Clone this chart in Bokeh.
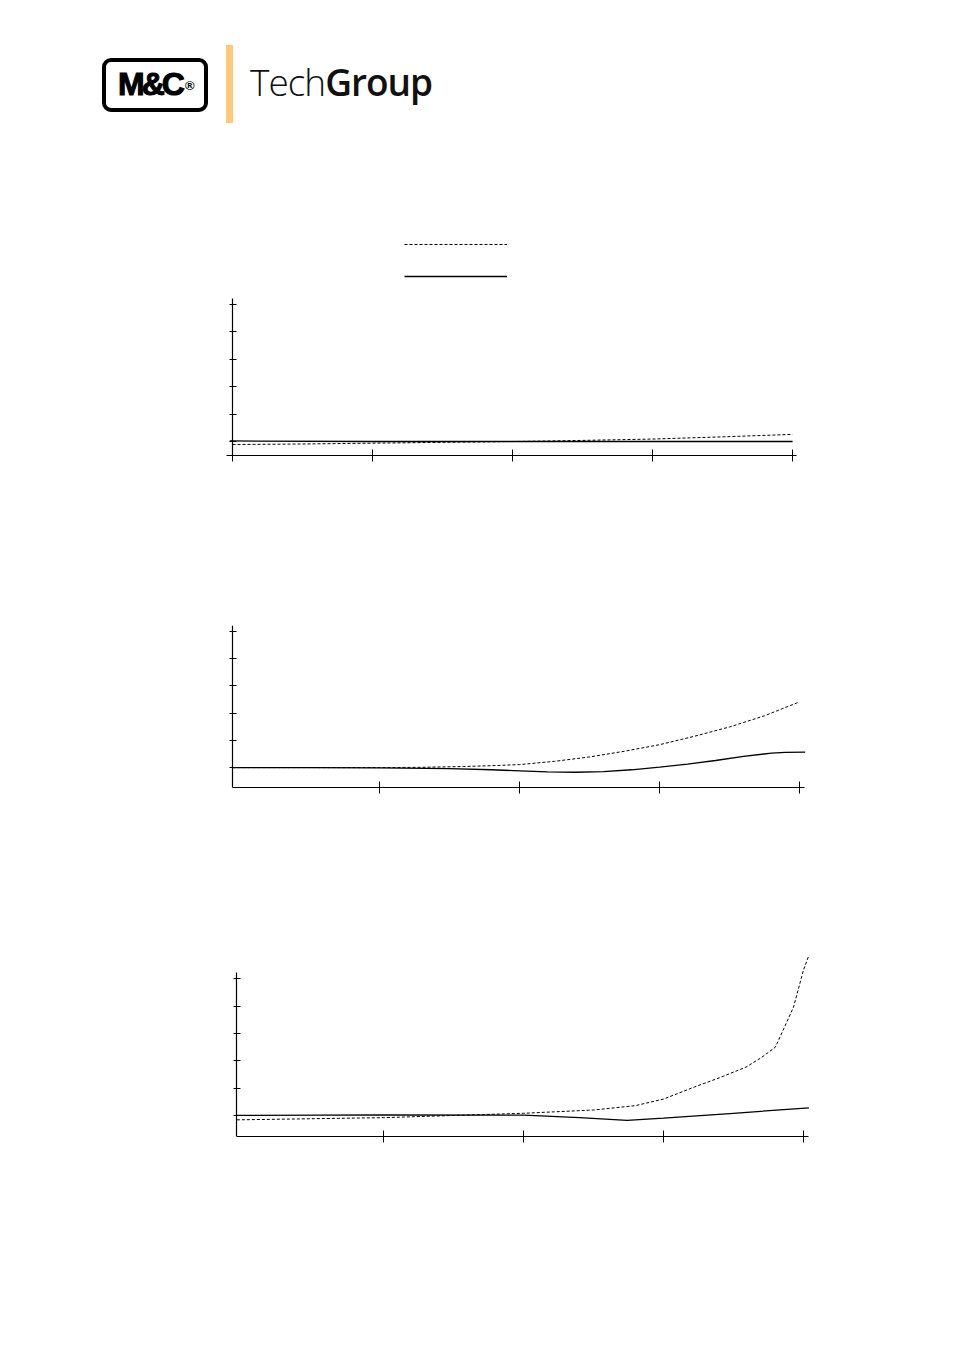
from bokeh.plotting import figure
from bokeh.layouts import column
from bokeh.models import Div, Legend, LegendItem, FixedTicker, Range1d
from bokeh.embed import file_html
from bokeh.resources import INLINE

# ---------------- data ----------------
# chart 1
c1_x_dash = [0.0, 0.5, 1.0, 1.5, 2.0, 2.5, 3.0, 3.5, 4.0]
c1_y_dash = [-0.11, -0.09, -0.06, -0.03, 0.0, 0.04, 0.09, 0.17, 0.26]
c1_x_solid = [-0.02, 1.0, 2.0, 3.0, 4.0]
c1_y_solid = [0.02, 0.0, 0.0, 0.0, 0.0]
c1_xticks = [0, 1, 2, 3, 4]

# chart 2
c2_x_dash = [-0.05, 0.5, 1.0, 1.3, 1.6, 1.8, 2.0, 2.25, 2.5, 2.75, 3.0, 3.25, 3.5, 3.75, 3.99]
c2_y_dash = [0.0, 0.0, 0.0, 0.01, 0.04, 0.07, 0.11, 0.23, 0.39, 0.6, 0.84, 1.15, 1.49, 1.9, 2.39]
c2_x_solid = [-0.05, 0.5, 1.0, 1.5, 1.8, 2.0, 2.2, 2.4, 2.6, 2.8, 3.0, 3.2, 3.4, 3.6, 3.8, 3.9, 4.04]
c2_y_solid = [0.0, 0.0, -0.01, -0.04, -0.08, -0.12, -0.16, -0.17, -0.15, -0.08, 0.02, 0.13, 0.26, 0.41, 0.53, 0.56, 0.57]
c2_xticks = [1, 2, 3, 4]

# chart 3
c3_x_dash = [-0.05, 1.0, 2.0, 2.5, 2.8, 3.0, 3.22, 3.4, 3.59, 3.7, 3.8, 3.93, 4.0, 4.04]
c3_y_dash = [-0.16, -0.08, 0.08, 0.2, 0.36, 0.6, 1.04, 1.38, 1.77, 2.12, 2.5, 3.97, 5.31, 5.87]
c3_x_solid = [-0.05, 1.0, 2.0, 2.4, 2.74, 3.0, 3.5, 4.04]
c3_y_solid = [0.0, 0.02, 0.01, -0.08, -0.18, -0.1, 0.08, 0.28]
c3_xticks = [1, 2, 3, 4]

y_ticks = [0, 1, 2, 3, 4, 5]

DASH = "3 2"

W = 946
BL = 226   # common frame left (page px)
BR = W - 809  # common frame right at page x 809


def make_chart(height, bt, bb, xr, yr, xticks, yaxis_at, xbounds, ybounds):
    p = figure(width=W, height=height, output_backend="svg",
               toolbar_location=None, x_range=Range1d(*xr), y_range=Range1d(*yr),
               min_border_left=BL, min_border_right=BR,
               min_border_top=bt, min_border_bottom=bb)
    p.grid.visible = False
    p.outline_line_color = None
    p.background_fill_color = "white"
    p.border_fill_color = "white"
    for ax in (p.xaxis[0], p.yaxis[0]):
        ax.axis_line_color = "black"
        ax.axis_line_width = 1.2
        ax.major_tick_line_color = "black"
        ax.major_tick_line_width = 1
        ax.minor_tick_line_color = None
        ax.major_label_standoff = 0
    xa = p.xaxis[0]
    ya = p.yaxis[0]
    xa.ticker = FixedTicker(ticks=xticks)
    xa.major_label_overrides = {t: "" for t in xticks}
    xa.major_tick_in = 6
    xa.major_tick_out = 6
    xa.bounds = xbounds
    ya.ticker = FixedTicker(ticks=y_ticks)
    ya.major_label_overrides = {t: "" for t in y_ticks}
    ya.major_tick_in = 4
    ya.major_tick_out = 3
    ya.bounds = ybounds
    ya.fixed_location = yaxis_at
    return p


# chart 1: y-axis page x 232 (x=0), 140 px/unit; frame y 225..455
p1 = make_chart(360, 25, 105, (-0.043, 4.121), (-0.51, 7.88), c1_xticks,
                0.0, (-0.04, 4.03), (-0.51, 5.22))
r1d = p1.line(c1_x_dash, c1_y_dash, line_color="black", line_width=1, line_dash=DASH)
r1s = p1.line(c1_x_solid, c1_y_solid, line_color="black", line_width=1.3)
legend = Legend(items=[LegendItem(label="", renderers=[r1d]),
                       LegendItem(label="", renderers=[r1s])],
                location=(178, 169), orientation="vertical",
                glyph_width=103, glyph_height=20, spacing=12,
                padding=0, margin=0, border_line_color=None,
                background_fill_alpha=0, label_standoff=0, label_width=0,
                label_height=0)
p1.add_layout(legend)

# chart 2: x=0 at page 239, y-axis at 232; frame y 625..787
p2 = make_chart(340, 65, 113, (-0.093, 4.071), (-0.73, 5.21), c2_xticks,
                -0.05, (-0.05, 4.036), (-0.73, 5.21))
p2.line(c2_x_dash, c2_y_dash, line_color="black", line_width=1, line_dash=DASH)
p2.line(c2_x_solid, c2_y_solid, line_color="black", line_width=1.3)

# chart 3: x=0 at page 243.3, y-axis at 236; frame y 950..1136 (axis line to 972)
p3 = make_chart(300, 50, 64, (-0.124, 4.044), (-0.77, 6.04), c3_xticks,
                -0.05, (-0.05, 4.04), (-0.77, 5.23))
p3.line(c3_x_dash, c3_y_dash, line_color="black", line_width=1, line_dash=DASH)
p3.line(c3_x_solid, c3_y_solid, line_color="black", line_width=1.3)

logo_html = """
<div style="position:relative;width:946px;height:200px;background:white;">
 <div style="position:absolute;box-sizing:border-box;left:102px;top:58px;width:106px;height:54px;border:4px solid #000;border-radius:9px;"></div>
 <div style="position:absolute;left:118px;top:68px;font-family:'Liberation Sans';font-weight:bold;font-size:32px;line-height:32px;letter-spacing:-3px;color:#000;-webkit-text-stroke:1px #000;white-space:nowrap;">M&amp;C</div>
 <div style="position:absolute;left:185px;top:79px;font-family:'Liberation Sans';font-weight:bold;font-size:13px;line-height:13px;color:#000;">&#174;</div>
 <div style="position:absolute;left:226px;top:45px;width:7px;height:78px;background:#FFC978;"></div>
 <div style="position:absolute;left:250px;top:63px;font-family:'Open Sans';font-size:37px;line-height:37px;letter-spacing:-1px;color:#111;white-space:nowrap;"><span style="font-weight:300;">Tech</span><span style="font-weight:600;">Group</span></div>
</div>
"""
logo = Div(text=logo_html, width=W, height=200, margin=0)

layout = column(logo, p1, p2, p3, spacing=0)

open("out.html", "w").write(file_html(layout, INLINE))
